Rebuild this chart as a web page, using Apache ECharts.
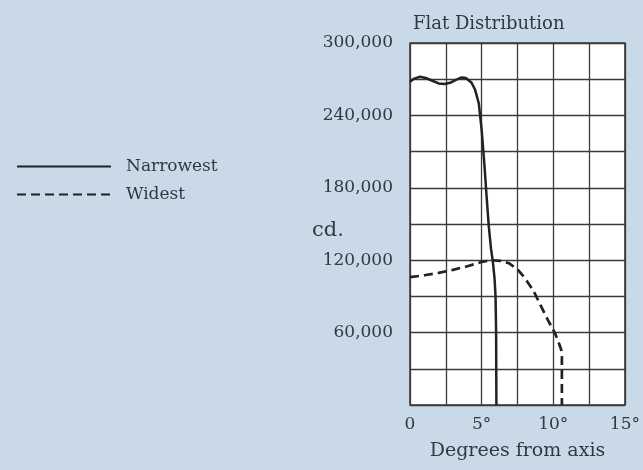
<!DOCTYPE html>
<html>
<head>
<meta charset="utf-8">
<script src="https://cdn.jsdelivr.net/npm/echarts@6/dist/echarts.min.js"></script>
<style>
html,body{margin:0;padding:0;background:#c9d9e7;}
#c{width:643px;height:470px;}
</style>
</head>
<body>
<div id="c"></div>
<script>
const narrowDeg = [0, 0.3, 0.7, 1.1, 1.6, 2.0, 2.4, 2.8, 3.2, 3.6, 3.9, 4.3, 4.55, 4.8, 5.0, 5.2, 5.35, 5.5, 5.65, 5.8, 5.9, 5.97, 6.01, 6.03];
const narrowCd  = [268000, 270500, 272000, 271000, 268500, 266500, 266000, 267000, 269500, 271500, 271000, 267000, 261000, 250000, 228000, 198000, 172000, 148000, 130000, 117000, 105000, 90000, 60000, 0];
const wideDeg = [0, 1, 2, 3, 4, 5, 5.7, 6.3, 6.9, 7.5, 8.0, 8.6, 9.1, 9.6, 10.1, 10.4, 10.55, 10.6, 10.6];
const wideCd  = [106000, 107500, 109500, 112000, 115000, 118500, 120000, 119500, 117500, 112500, 105500, 95000, 83000, 71000, 60000, 51000, 46000, 40000, 0];
const xTicks = [0, 5, 10, 15];
const yTicks = [60000, 120000, 180000, 240000, 300000];

const narrow = narrowDeg.map((d, i) => [d, narrowCd[i]]);
const wide = wideDeg.map((d, i) => [d, wideCd[i]]);
const font = '"DejaVu Serif", serif';
const ink = '#2e3a40';

const chart = echarts.init(document.getElementById('c'));
chart.setOption({
  backgroundColor: '#c9d9e7',
  animation: false,
  title: {
    text: 'Flat Distribution', left: 408, top: 10,
    textStyle: {fontFamily: font, fontWeight: 'normal', fontSize: 18, color: ink}
  },
  legend: {
    orient: 'vertical', left: 11, top: 153, itemGap: 11,
    itemWidth: 94, itemHeight: 17,
    itemStyle: {opacity: 0},
    textStyle: {fontFamily: font, fontSize: 17, color: ink, padding: [0, 0, 0, 10]},
    data: ['Narrowest', 'Widest']
  },
  graphic: [{
    type: 'text', left: 312, top: 220,
    style: {text: 'cd.', font: '21px ' + font, fill: ink}
  }],
  grid: {left: 410, top: 43, width: 218, height: 362, backgroundColor: '#ffffff', show: true, borderColor: '#3a3a3a', borderWidth: 1.5},
  xAxis: {
    type: 'value', min: 0, max: 15, interval: 2.5,
    name: 'Degrees from axis', nameLocation: 'middle', nameGap: 37,
    nameTextStyle: {fontFamily: font, fontSize: 19, color: ink},
    axisLine: {show: false}, axisTick: {show: false},
    axisLabel: {
      margin: 11, fontFamily: font, fontSize: 17, color: ink,
      formatter: v => xTicks.indexOf(v) < 0 ? '' : (v === 0 ? '0' : v + '°')
    },
    splitLine: {show: true, lineStyle: {color: '#3a3a3a', width: 1.3}}
  },
  yAxis: {
    type: 'value', min: 0, max: 300000, interval: 30000,
    axisLine: {show: false}, axisTick: {show: false},
    axisLabel: {
      margin: 17, fontFamily: font, fontSize: 17, color: ink,
      formatter: v => yTicks.indexOf(v) < 0 ? '' : v.toLocaleString('en-US')
    },
    splitLine: {show: true, lineStyle: {color: '#3a3a3a', width: 1.3}}
  },
  series: [
    {
      name: 'Narrowest', type: 'line', data: narrow, showSymbol: false, symbol: 'none',
      smooth: false,
      lineStyle: {color: '#222', width: 2.5, type: 'solid', join: 'round'}, itemStyle: {color: '#222'}
    },
    {
      name: 'Widest', type: 'line', data: wide, showSymbol: false, symbol: 'none',
      smooth: false,
      lineStyle: {color: '#222', width: 2.7, type: [9, 5], join: 'round'}, itemStyle: {color: '#222'}
    }
  ]
});
</script>
</body>
</html>
